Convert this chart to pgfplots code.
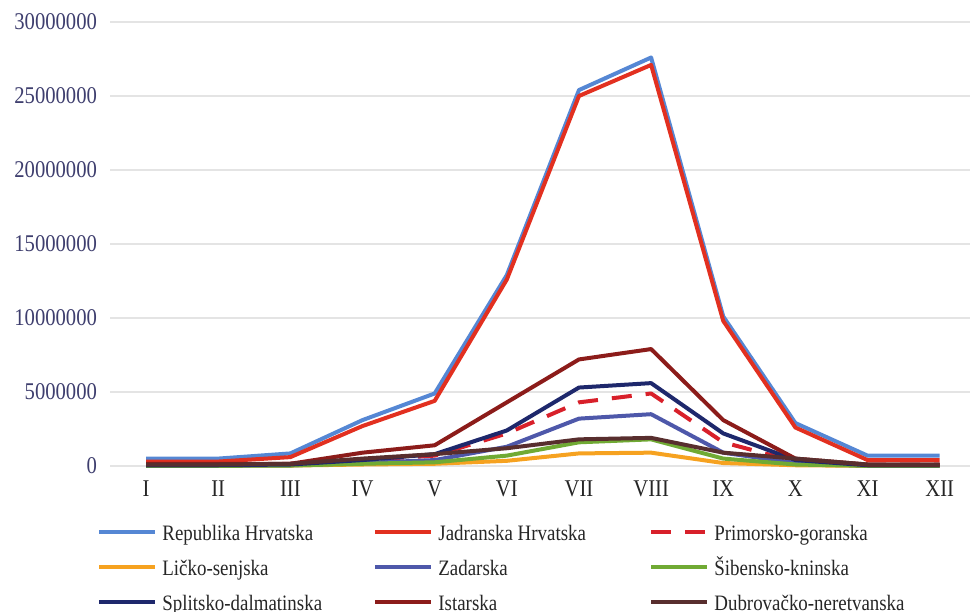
\documentclass[border=0pt]{standalone}
\usepackage{pgfplots}
\pgfplotsset{compat=1.18}
\usepackage{fontspec}
\setmainfont{Liberation Serif}
\definecolor{cRH}{RGB}{85,135,212}
\definecolor{cJH}{RGB}{226,48,32}
\definecolor{cPG}{RGB}{216,32,42}
\definecolor{cLS}{RGB}{246,162,32}
\definecolor{cZA}{RGB}{78,88,170}
\definecolor{cSK}{RGB}{112,170,52}
\definecolor{cSD}{RGB}{30,40,108}
\definecolor{cIS}{RGB}{140,28,26}
\definecolor{cDN}{RGB}{88,46,46}
\definecolor{tickc}{RGB}{62,62,110}
\definecolor{gridc}{RGB}{228,228,228}
\newcommand{\legtxt}[1]{\makebox[105.5pt][l]{\strut\scalebox{0.86}[1]{#1}}}
\newcommand{\xl}[1]{\scalebox{0.86}[1]{#1}}
\begin{document}
\begin{tikzpicture}
\begin{axis}[
  scale only axis, width=430pt, height=222pt,
  xmin=0.5, xmax=12.42, ymin=0, ymax=30000000,
  axis line style={draw=none},
  major tick length=0pt,
  ymajorgrids, grid style={gridc, line width=0.8pt},
  ytick={0,5000000,10000000,15000000,20000000,25000000,30000000},
  xtick={1,2,3,4,5,6,7,8,9,10,11,12},
  xticklabels={\xl{I},\xl{II},\xl{III},\xl{IV},\xl{V},\xl{VI},\xl{VII},\xl{VIII},\xl{IX},\xl{X},\xl{XI},\xl{XII}},
  /pgf/number format/assume math mode=true,
  yticklabel={\scalebox{0.86}[1]{\pgfmathprintnumber[fixed,precision=0,set thousands separator={}]{\tick}}},
  xticklabel style={font=\fontsize{12}{14}\selectfont, text=black!85, yshift=-4pt},
  yticklabel style={font=\fontsize{12}{14}\selectfont, text=tickc, xshift=-3pt},
  scaled y ticks=false,
  clip=false,
  every axis plot/.append style={line width=2pt, line join=round},
  legend columns=3,
  legend style={at={(0,0)}, anchor=north west, xshift=-6.5pt, yshift=-27.5pt,
    draw=none, fill=none, inner sep=0pt, row sep=6.4pt,
    nodes={inner sep=0pt, font=\fontsize{11}{13.6}\selectfont, text=black!85},
    /tikz/every odd column/.append style={column sep=2.5pt}},
  legend image code/.code={\draw[#1] (0pt,0pt) -- (28pt,0pt);},
]
\addplot[cRH] coordinates {(1,500000)(2,500000)(3,850000)(4,3100000)(5,4900000)(6,12900000)(7,25400000)(8,27600000)(9,10100000)(10,2900000)(11,700000)(12,700000)};
\addlegendentry{\legtxt{Republika Hrvatska}}
\addplot[cJH] coordinates {(1,300000)(2,300000)(3,600000)(4,2700000)(5,4400000)(6,12600000)(7,25000000)(8,27100000)(9,9800000)(10,2600000)(11,400000)(12,400000)};
\addlegendentry{\legtxt{Jadranska Hrvatska}}
\addplot[cPG, dash pattern=on 10pt off 7pt] coordinates {(1,100000)(2,100000)(3,150000)(4,400000)(5,700000)(6,2200000)(7,4300000)(8,4900000)(9,1600000)(10,300000)(11,100000)(12,100000)};
\addlegendentry{\legtxt{Primorsko-goranska}}
\addplot[cLS] coordinates {(1,10000)(2,10000)(3,30000)(4,100000)(5,150000)(6,350000)(7,850000)(8,900000)(9,200000)(10,50000)(11,10000)(12,10000)};
\addlegendentry{\legtxt{Ličko-senjska}}
\addplot[cZA] coordinates {(1,20000)(2,20000)(3,50000)(4,200000)(5,400000)(6,1300000)(7,3200000)(8,3500000)(9,900000)(10,200000)(11,20000)(12,20000)};
\addlegendentry{\legtxt{Zadarska}}
\addplot[cSK] coordinates {(1,10000)(2,10000)(3,30000)(4,150000)(5,250000)(6,700000)(7,1600000)(8,1800000)(9,500000)(10,100000)(11,10000)(12,10000)};
\addlegendentry{\legtxt{Šibensko-kninska}}
\addplot[cSD] coordinates {(1,50000)(2,50000)(3,100000)(4,400000)(5,800000)(6,2400000)(7,5300000)(8,5600000)(9,2200000)(10,400000)(11,50000)(12,50000)};
\addlegendentry{\legtxt{Splitsko-dalmatinska}}
\addplot[cIS] coordinates {(1,150000)(2,150000)(3,150000)(4,900000)(5,1400000)(6,4300000)(7,7200000)(8,7900000)(9,3100000)(10,500000)(11,100000)(12,100000)};
\addlegendentry{\legtxt{Istarska}}
\addplot[cDN] coordinates {(1,100000)(2,100000)(3,150000)(4,500000)(5,800000)(6,1200000)(7,1800000)(8,1900000)(9,900000)(10,500000)(11,100000)(12,100000)};
\addlegendentry{\legtxt{Dubrovačko-neretvanska}}
\end{axis}
\pgfresetboundingbox
\useasboundingbox ([xshift=-55pt,yshift=-73pt]current axis.south west) rectangle ([xshift=1pt,yshift=11pt]current axis.north east);
\end{tikzpicture}
\end{document}
